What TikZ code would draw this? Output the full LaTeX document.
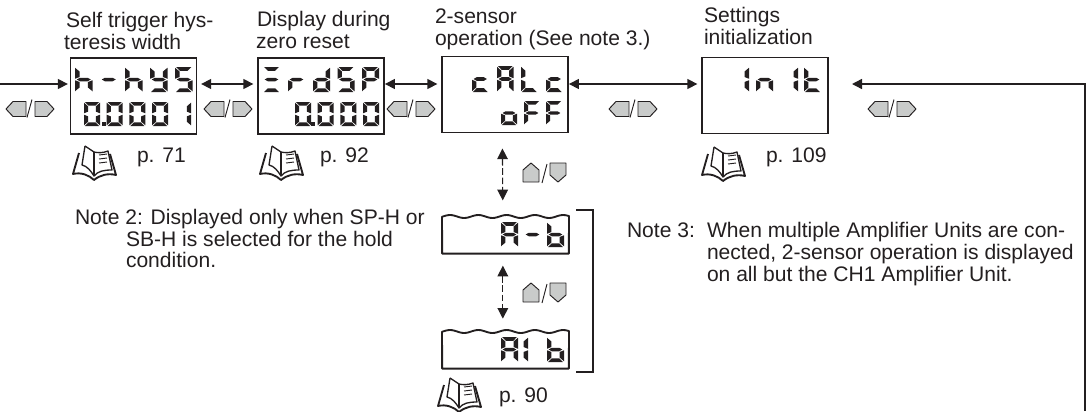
\documentclass[tikz,border=0pt]{standalone}
\usepackage{fontspec}
\setmainfont{Liberation Sans}
\usetikzlibrary{positioning,arrows.meta}
\definecolor{ink}{HTML}{231F20}
\definecolor{keygray}{HTML}{C9CBCA}
\newcommand{\sega}{(.06,0) -- (.94,0) -- (.72,.15) -- (.28,.15) -- cycle}
\newcommand{\segb}{(1,.03) -- (1,.47) -- (.74,.40) -- (.74,.18) -- cycle}
\newcommand{\segc}{(1,.97) -- (1,.53) -- (.74,.60) -- (.74,.82) -- cycle}
\newcommand{\segd}{(.06,1) -- (.94,1) -- (.72,.85) -- (.28,.85) -- cycle}
\newcommand{\sege}{(0,.97) -- (0,.53) -- (.26,.60) -- (.26,.82) -- cycle}
\newcommand{\segf}{(0,.03) -- (0,.47) -- (.26,.40) -- (.26,.18) -- cycle}
\newcommand{\segg}{(.10,.5) -- (.28,.43) -- (.72,.43) -- (.90,.5) -- (.72,.57) -- (.28,.57) -- cycle}
\newcommand{\lcdchar}[5]{%
    \begin{scope}[shift={(#1,#2)},x=#3*0.75pt,y=-#4*0.75pt]
        \edef\lcdlist{#5}
        \foreach \s in \lcdlist {\fill[ink] \csname seg\s\endcsname;}
    \end{scope}}
\newcommand{\lcdh}{f,e,g,c}
\newcommand{\lcdy}{f,b,g,c,d}
\newcommand{\lcdS}{a,f,g,c,d}
\newcommand{\lcdz}{a,b,c,d,e,f}
\newcommand{\lcdo}{b,c}
\newcommand{\lcdE}{a,g,d}
\newcommand{\lcdr}{e,g}
\newcommand{\lcdd}{b,c,d,e,g}
\newcommand{\lcdP}{a,b,e,f,g}
\newcommand{\lcdc}{g,e,d}
\newcommand{\lcdA}{a,b,c,e,f,g}
\newcommand{\lcdL}{f,e,d}
\newcommand{\lcdO}{c,d,e,g}
\newcommand{\lcdF}{a,f,g,e}
\newcommand{\lcdn}{e,g,c}
\newcommand{\lcdt}{f,e,g,d}
\newcommand{\lcdb}{f,e,d,c,g}
\tikzset{
    lab/.style={font=\fontsize{15.8}{16}\selectfont,text=ink,inner sep=0pt,outer sep=0pt,anchor=base west},
    lcdbox/.style={draw=ink,line width=1.4pt,minimum width=94.5pt,minimum height=57pt,inner sep=0pt,outer sep=0pt},
    wavebox/.style={minimum width=95pt,minimum height=28pt,inner sep=0pt,outer sep=0pt},
    arr/.style={draw=ink,line width=1.1pt,-{Triangle[length=7.5pt,width=7.5pt]}},
    darr/.style={draw=ink,line width=1.1pt,{Triangle[length=7.5pt,width=7.5pt]}-{Triangle[length=7.5pt,width=7.5pt]}},
    dashdarr/.style={draw=ink,line width=0.8pt,dash pattern=on 5pt off 2pt,{Triangle[length=8pt,width=8pt]}-{Triangle[length=8pt,width=8pt]}},
    key/.style={draw=ink,line width=0.7pt,fill=keygray,line join=round},
    lrkey/.pic={
        \draw[key] (-24,0.5) -- (-17,-7) -- (-4,-7) -- (-4,8) -- (-17,8) -- cycle;
        \draw[key] (24,0.5) -- (17,-7) -- (5,-7) -- (5,8) -- (17,8) -- cycle;
        \draw[ink,line width=0.7pt] (-3,9) -- (2,-9);
    },
    udkey/.pic={
        \draw[key] (-13.5,-10) -- (-21.5,-3) -- (-21.5,9) -- (-5.5,9) -- (-5.5,-3) -- cycle;
        \draw[key] (5.5,-10) -- (21.5,-10) -- (21.5,2) -- (13.5,9) -- (5.5,2) -- cycle;
        \draw[ink,line width=0.7pt] (-2.5,10) -- (2.5,-9);
    },
    bookicon/.pic={
        \draw[ink,line width=1.4pt,line join=round] (6,8) -- (0,29) .. controls (8,27) and (16,30) .. (21,35)
            .. controls (27,30) and (35,28) .. (43,30) -- (37,9);
        \draw[ink,line width=1pt,line join=round] (12,1) -- (9,20) .. controls (14,21) and (18,26) .. (21,31)
            .. controls (25,26) and (31,25) .. (39,25) -- (35,6) .. controls (30,8) and (25,8) .. (21,7) -- (12,1);
        \draw[ink,line width=0.8pt] (21,7) -- (21,31);
        \foreach \u in {10,14,18} {\draw[ink,line width=0.7pt] (26,\u) -- (34,\u-1);}
    }
}
\begin{document}
\begin{tikzpicture}[x=0.75pt,y=-0.75pt]
        \useasboundingbox (0,0) rectangle (1088,411);
        \node[lcdbox] (hys) at (133.5,96) {};
        \node[lcdbox] (zrd) at (321,96) {};
        \node[lcdbox] (cal) at (505,94.5) {};
        \node[lcdbox] (ini) at (765,95.5) {};
        \node[wavebox] (ab) at (505.5,235) {};
        \node[wavebox] (aib) at (505.5,350) {};
        \foreach \n/\yw in {ab/218,aib/333} {
            \draw[ink,line width=1.4pt,line join=round] (\n.south west)
                -- plot[domain=442:569,samples=64] (\x,{\yw-1.5-1.5*cos(12.72*(\x-450))})
                -- (\n.south east) -- cycle;
        }
        \foreach \n/\x/\y/\txt in {a/66/27/Self trigger hys-,b/64/49/teresis width,c/257/26/Display during,d/256/48/zero reset,e/435/23/2-sensor,f/435/45/operation (See note 3.),g/704/22/Settings,h/704/44/initialization} {
            \node[lab] (title\n) at (\x,\y) {\txt};
        }
        \coordinate (rowtop) at (0,84);
        \coordinate (inleft) at (0,84);
        \coordinate (loopb) at (1085,411);
        \draw[arr,shorten >=2pt] (inleft) -- (hys.west |- rowtop);
        \draw[darr,shorten <=3.5pt,shorten >=3.5pt] (hys.east |- rowtop) -- (zrd.west |- rowtop);
        \draw[darr,shorten <=0.7pt,shorten >=3.5pt] (zrd.east |- rowtop) -- (cal.west |- rowtop);
        \draw[darr,shorten <=0.7pt,shorten >=3.5pt] (cal.east |- rowtop) -- (ini.west |- rowtop);
        \draw[arr,shorten >=18pt] (loopb) |- (ini.east |- rowtop);
        \draw[dashdarr,shorten <=12pt,shorten >=12pt] ([xshift=-2pt]cal.south) -- ([xshift=-2pt]ab.north);
        \draw[dashdarr,shorten <=9pt,shorten >=9.5pt] ([xshift=-2pt]ab.south) -- ([xshift=-2pt]aib.north);
        \draw[ink,line width=1.1pt] (576,210) -- (593,210) -- (593,372) -- (576,372);
        \foreach \x in {30,228,411,633,892} {\pic at (\x,108.5) {lrkey};}
        \foreach \y in {173,293} {\pic at (544.5,\y) {udkey};}
        \foreach \x/\y in {73/145,260/145,438/377,702/146} {\pic at (\x,\y) {bookicon};}
        \foreach \n/\x/\y/\txt in {a/137/162/p. 71,b/320/162/p. 92,c/499/402/p. 90,d/766/162/p. 109} {
            \node[lab] (page\n) at (\x,\y) {\txt};
        }
        \foreach \n/\x/\y/\txt in {a/75/224/Note 2: Displayed only when SP-H or,b/126/246/SB-H is selected for the hold,c/126/267/condition.,d/627/237/Note 3:,e/707/237/When multiple Amplifier Units are con-,f/707/259/{nected, 2-sensor operation is displayed},g/707/281/on all but the CH1 Amplifier Unit.} {
            \node[lab] (note\n) at (\x,\y) {\txt};
        }
        \foreach \x/\c in {75/\lcdh,100/g,125/\lcdh,150/\lcdy,175/\lcdS} {\lcdchar{\x}{67}{17.5}{25}{\c}}
        \foreach \x/\c in {84/\lcdz,106.7/\lcdz,129.4/\lcdz,152/\lcdz,175/\lcdo} {\lcdchar{\x}{102}{16}{24}{\c}}
        \foreach \x/\c in {263/\lcdE,288/\lcdr,313/\lcdd,337.5/\lcdS,362/\lcdP} {\lcdchar{\x}{67}{17}{25}{\c}}
        \foreach \x in {295,317.7,340.4,363} {\lcdchar{\x}{102}{16}{24}{\lcdz}}
        \fill[ink] (101.5,122) rectangle (105.5,126);
        \fill[ink] (311,122) rectangle (315,126);
        \foreach \x/\c in {472/\lcdc,497/\lcdA,521/\lcdL,546/\lcdc} {\lcdchar{\x}{66}{16.5}{26}{\c}}
        \foreach \x/\c in {501/\lcdO,524/\lcdF,546/\lcdF} {\lcdchar{\x}{101}{16}{24}{\c}}
        \foreach \x/\c in {732/\lcdo,756/\lcdn,781/\lcdo,804/\lcdt} {\lcdchar{\x}{67}{17}{25}{\c}}
        \foreach \x/\c in {501/\lcdA,524/g,547/\lcdb} {\lcdchar{\x}{222}{17}{25}{\c}}
        \foreach \x/\c in {501/\lcdA,511/\lcdo,547/\lcdb} {\lcdchar{\x}{337}{17}{25}{\c}}
    \end{tikzpicture}
\end{document}
